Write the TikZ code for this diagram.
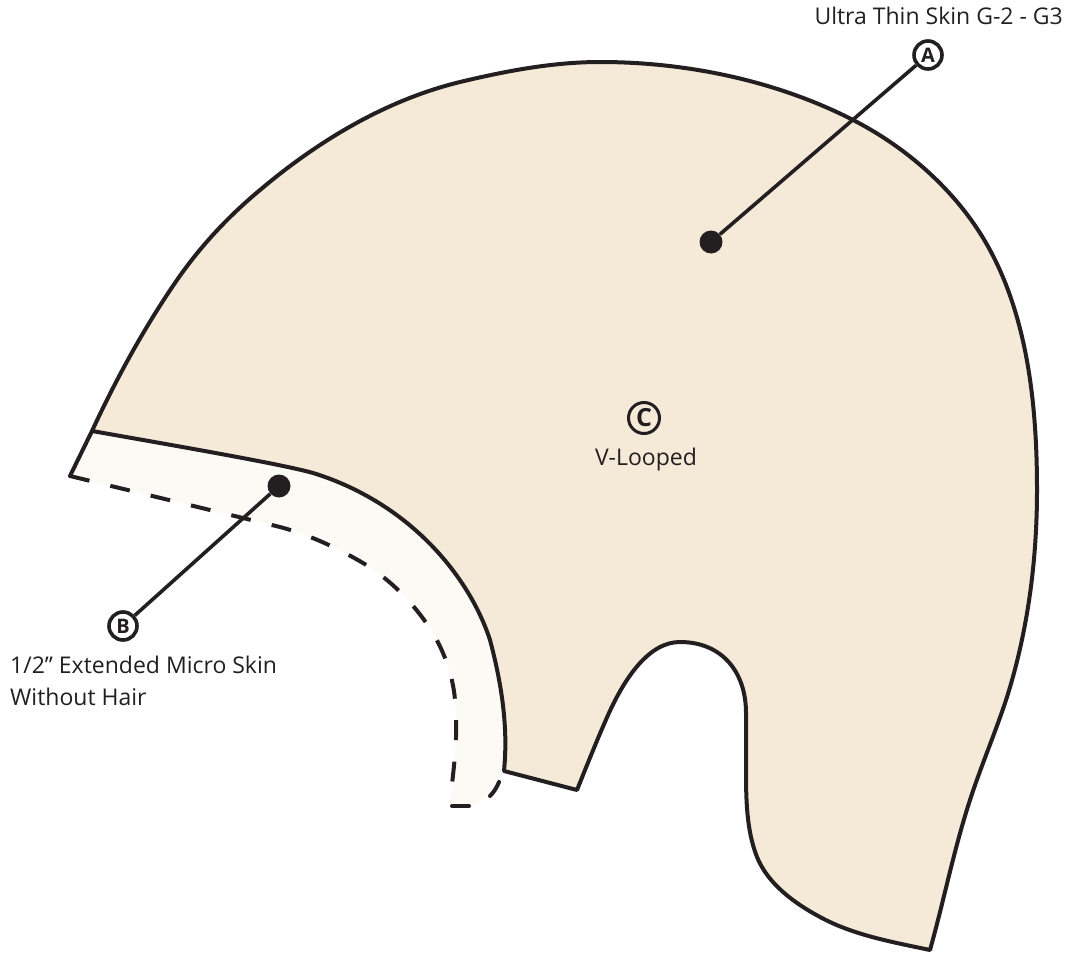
\documentclass[tikz,border=0pt]{standalone}
\usepackage{fontspec}
\setmainfont{Open Sans}
\definecolor{ink}{HTML}{231F20}
\definecolor{capfill}{HTML}{F5E9D8}
\definecolor{skirt}{HTML}{FCFAF5}
\tikzset{
  outline/.style={draw=ink,line width=4pt,line join=round,line cap=round},
  leader/.style={draw=ink,line width=3.6pt},
  dot/.style={circle,fill=ink,inner sep=0pt,minimum size=23pt},
  badge/.style={circle,draw=ink,line width=3.6pt,inner sep=0pt,minimum size=28pt,font=\fontsize{20pt}{20pt}\selectfont\bfseries,text=ink},
  lbl/.style={font=\fontsize{23pt}{32pt}\selectfont,text=ink,inner sep=0pt}
}
\begin{document}
\begin{tikzpicture}[x=1pt,y=-1pt]
\useasboundingbox (0,0) rectangle (1068,955);
% lighter strip
\fill[skirt] (70,476) -- (280,527) .. controls (310,535) and (340,549) .. (368,566)
  .. controls (391,581) and (411,601) .. (427,624)
  .. controls (443,647) and (453,675) .. (455,700)
  .. controls (458,730) and (455,760) .. (450,806)
  -- (470,806) .. controls (485,800) and (497,785) .. (504,771)
  -- (515,740) -- (508,670) -- (480,590) -- (420,520) -- (350,480) -- (285,455) -- (92,431) -- cycle;
% cap
\path[outline,fill=capfill] (92,431)
  .. controls (118,375) and (146,325) .. (177,280)
  .. controls (202,244) and (230,215) .. (260,190)
  .. controls (318,141) and (386,100) .. (460,82)
  .. controls (506,71) and (553,62) .. (600,62)
  .. controls (687,62) and (778,81) .. (855,121)
  .. controls (905,147) and (950,186) .. (980,233)
  .. controls (1027,307) and (1037,402) .. (1037,490)
  .. controls (1037,560) and (1028,630) .. (1007,697)
  .. controls (996,731) and (981,766) .. (970,800)
  .. controls (954,849) and (944,900) .. (930,950)
  .. controls (892,942) and (853,935) .. (820,917)
  .. controls (794,903) and (768,884) .. (757,857)
  .. controls (746,829) and (746,797) .. (746,767)
  -- (746,713)
  .. controls (746,672) and (722,642) .. (680,642)
  .. controls (650,642) and (625,675) .. (605,722)
  .. controls (597,740) and (585,770) .. (577,790)
  -- (504,771)
  .. controls (507,740) and (506,700) .. (490,640)
  .. controls (476,597) and (447,557) .. (413,528)
  .. controls (384,503) and (349,484) .. (313,473)
  .. controls (285,465) and (200,450) .. (92,431)
  -- cycle;
% strip edges
\draw[outline] (92,431) -- (70,476);
\draw[outline,dash pattern=on 20pt off 21.5pt,line cap=butt] (70,476) -- (280,527) .. controls (310,535) and (340,549) .. (368,566)
  .. controls (391,581) and (411,601) .. (427,624)
  .. controls (443,647) and (453,675) .. (455,700)
  .. controls (458,730) and (455,760) .. (451,792);
\draw[outline] (452,806) -- (469,806);
\draw[outline] (490,796) .. controls (494,792) and (497,787) .. (499,782);
% leaders
\node[dot] (dotA) at (711,242) {};
\node[dot] (dotB) at (279,486) {};
\node[badge] (badgeA) at (928,55) {A};
\node[badge] (badgeB) at (123,626) {B};
\node[circle,draw=ink,line width=3pt,inner sep=0pt,minimum size=31pt,font=\fontsize{25pt}{25pt}\selectfont\bfseries,text=ink] (badgeC) at (644,418) {C};
\draw[leader] (dotA) -- (badgeA);
\draw[leader] (dotB) -- (badgeB);
% labels
\node[lbl,anchor=east] (tA) at (1063,16) {Ultra Thin Skin G-2 - G3};
\node[lbl,anchor=north west,align=left] (tB) at (10,656) {1/2\textquotedblright\ Extended Micro Skin\\Without Hair};
\node[lbl] (tC) at (646,460) {V-Looped};
\end{tikzpicture}
\end{document}
